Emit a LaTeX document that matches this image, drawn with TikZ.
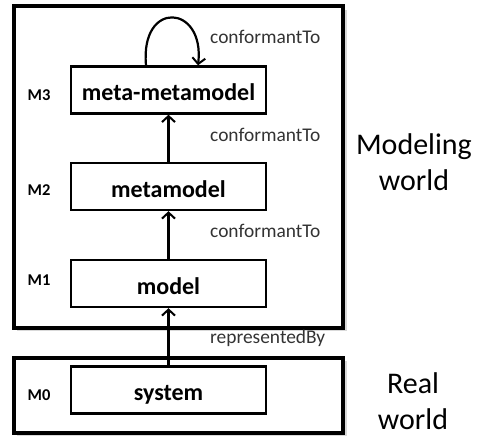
\documentclass[tikz,border=0pt]{standalone}
\usepackage{fontspec}
\setmainfont{Carlito}
\usetikzlibrary{arrows.meta}
\begin{document}
\begin{tikzpicture}[x=1pt,y=-1pt,
  world/.style={draw=black,line width=3.6pt},
  shade/.style={fill=black!15,draw=none},
  levelbox/.style={draw=black,line width=2.4pt,minimum width=195pt,minimum height=47pt,
    inner sep=0pt,text height=21pt,text depth=0pt,font=\fontsize{24}{26}\selectfont\bfseries},
  levelname/.style={font=\fontsize{16.5}{18}\selectfont\bfseries,inner sep=0pt},
  rel/.style={font=\fontsize{19.4}{22}\selectfont,text=black!80,anchor=west,inner sep=0pt},
  area/.style={font=\fontsize{30}{36}\selectfont,align=center,inner sep=0pt},
  link/.style={line width=2.2pt,-{Straight Barb[length=6pt,width=13pt,line width=2pt]}}]
\useasboundingbox (0,0) rectangle (479,436);

% soft shadows and the two world frames
\fill[shade] (17,10) rectangle (347,331);
\fill[shade] (17,361) rectangle (347,436);
\fill[white] (14,6) rectangle (343,328);
\fill[white] (14,358) rectangle (343,433);
\draw[world] (14,6) rectangle (343,328);
\draw[world] (14,358) rectangle (343,433);

% level boxes
\node[levelbox] (mmm) at (168.5,90) {meta-metamodel};
\node[levelbox] (mm)  at (168.5,186.5) {metamodel};
\node[levelbox] (m)   at (168.5,283.5) {model};
\node[levelbox] (sys) at (168.5,390) {system};

% level names
\node[levelname] (l3) at (39,95)  {M3};
\node[levelname] (l2) at (39,190) {M2};
\node[levelname] (l1) at (39,280) {M1};
\node[levelname] (l0) at (39,395) {M0};

% relations
\coordinate (loopA) at ([xshift=-22.5pt]mmm.north);
\coordinate (loopB) at ([xshift=29.5pt]mmm.north);
\draw[link] (loopA) .. controls +(-6,-66) and +(7,-61) .. (loopB);
\draw[link] (mm.north)  -- (mmm.south);
\draw[link] (m.north)   -- (mm.south);
\draw[link] (sys.north) -- (m.south);

% relation labels
\node[rel] (c3) at (210,37)  {conformantTo};
\node[rel] (c2) at (210,135) {conformantTo};
\node[rel] (c1) at (210,231) {conformantTo};
\node[rel] (rb) at (210,338) {representedBy};

% world names
\node[area] (mw) at (414,162) {Modeling\\world};
\node[area] (rw) at (413,401) {Real\\world};
\end{tikzpicture}
\end{document}
